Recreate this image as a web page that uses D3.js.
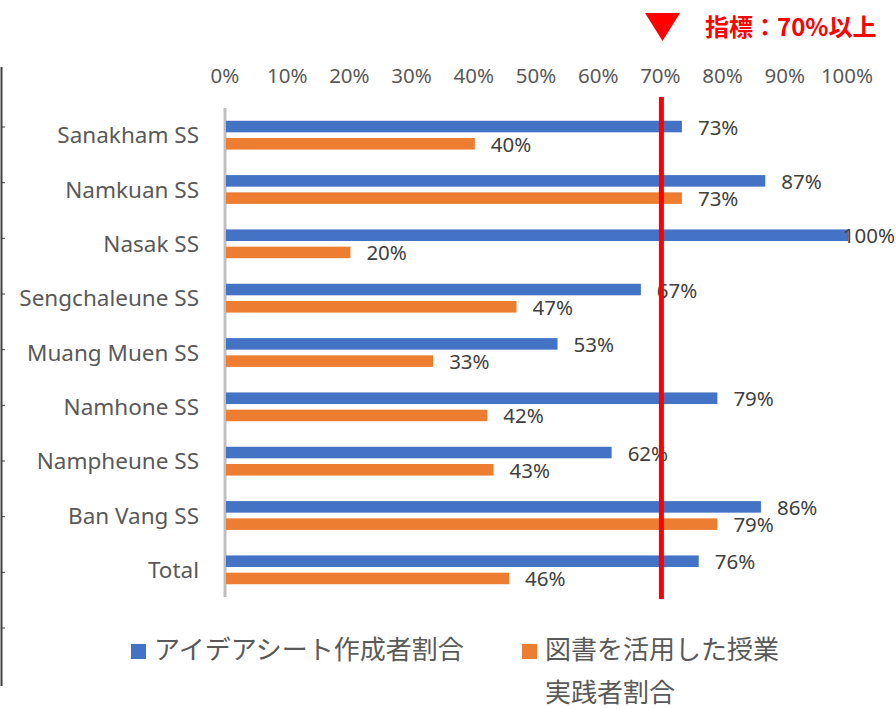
<!DOCTYPE html>
<html>
<head>
<meta charset="utf-8">
<script src="https://cdn.jsdelivr.net/npm/d3@7"></script>
<style>
  body { margin: 0; background: #fff; }
  svg { display: block; font-family: "Noto Sans", "Noto Sans CJK JP", sans-serif; }
</style>
</head>
<body>
<svg id="chart" width="896" height="708"></svg>
<script>
/**
 * Data.
 */
const categories = ['Sanakham SS', 'Namkuan SS', 'Nasak SS', 'Sengchaleune SS', 'Muang Muen SS',
    'Namhone SS', 'Nampheune SS', 'Ban Vang SS', 'Total'];
const seriesNames = ['アイデアシート作成者割合', '図書を活用した授業実践者割合'];
const ideaSheet = [0.733, 0.867, 1.00, 0.667, 0.533, 0.79, 0.62, 0.86, 0.76];
const bookUse = [0.40, 0.733, 0.20, 0.467, 0.333, 0.42, 0.43, 0.79, 0.455];
const xTicks = [0, 0.1, 0.2, 0.3, 0.4, 0.5, 0.6, 0.7, 0.8, 0.9, 1.0];
const target = 0.7;
const targetLabel = '指標：70%以上';
const legendLines = [['アイデアシート作成者割合'], ['図書を活用した授業', '実践者割合']];

/**
 * Visual configs.
 */
const colors = ['#4472C4', '#ED7D31'];
const W = 896, H = 708;

const svg = d3.select('#chart');

const xScale = d3.scaleLinear().domain([0, 1]).range([226, 848]);
const yScale = d3.scaleBand().domain(categories).range([108, 597]).padding(0);
const subScale = d3.scaleBand().domain([0, 1]).range([0, yScale.bandwidth()])
    .paddingInner(0.33).paddingOuter(0.74);

// stray axis at the left edge (cropped neighbour chart)
const stray = d3.scaleLinear().domain([0, 9]).range([127, 628]);
svg.append('line')
    .attr('x1', 1.5).attr('x2', 1.5).attr('y1', 67).attr('y2', 686)
    .attr('stroke', '#404040').attr('stroke-width', 2);
svg.append('g').selectAll('line')
    .data(d3.range(10))
    .join('line')
        .attr('x1', 1).attr('x2', 5)
        .attr('y1', d => stray(d)).attr('y2', d => stray(d))
        .attr('stroke', '#404040').attr('stroke-width', 1);

// x tick labels (top)
svg.append('g').selectAll('text')
    .data(xTicks)
    .join('text')
        .attr('x', d => xScale(d) - 1)
        .attr('y', 83)
        .attr('text-anchor', 'middle')
        .attr('fill', '#595959')
        .attr('font-size', 20.5)
        .text(d3.format('.0%'));

// category axis line
svg.append('line')
    .attr('x1', 225).attr('x2', 225)
    .attr('y1', yScale.range()[0]).attr('y2', yScale.range()[1])
    .attr('stroke', '#BFBFBF').attr('stroke-width', 3);

// category labels
svg.append('g').selectAll('text')
    .data(categories)
    .join('text')
        .attr('x', 199)
        .attr('y', d => yScale(d) + yScale.bandwidth() / 2 + 8)
        .attr('text-anchor', 'end')
        .attr('fill', '#595959')
        .attr('font-size', 22.5)
        .text(d => d);

// bars
const rows = categories.map((c, i) => ({ cat: c, values: [ideaSheet[i], bookUse[i]] }));
const groups = svg.append('g').selectAll('g')
    .data(rows)
    .join('g')
        .attr('transform', d => `translate(0,${yScale(d.cat)})`);

groups.selectAll('rect')
    .data(d => d.values.map((v, s) => ({ v, s })))
    .join('rect')
        .attr('x', xScale(0))
        .attr('y', d => subScale(d.s))
        .attr('width', d => xScale(d.v) - xScale(0))
        .attr('height', subScale.bandwidth())
        .attr('fill', d => colors[d.s]);

groups.selectAll('text')
    .data(d => d.values.map((v, s) => ({ v, s })))
    .join('text')
        .attr('y', d => subScale(d.s) + subScale.bandwidth() / 2 + 8)
        .attr('fill', '#404040')
        .attr('font-size', 20.5)
        .text(d => d3.format('.0%')(d.v))
        .attr('x', function(d) {
            const w = this.getComputedTextLength();
            return Math.min(xScale(d.v) + 16, W - w - 1);
        });

// target line
svg.append('line')
    .attr('x1', xScale(target)).attr('x2', xScale(target))
    .attr('y1', 97).attr('y2', 599)
    .attr('stroke', '#FF0000').attr('stroke-width', 5);

// target marker and label
svg.append('path')
    .attr('d', 'M645,13 L680,13 L662.5,41 Z')
    .attr('fill', '#FF0000');
svg.append('text')
    .attr('x', 705)
    .attr('y', 36)
    .attr('fill', '#FF0000')
    .attr('font-size', 24)
    .attr('font-weight', 'bold')
    .attr('font-family', '"Noto Sans CJK JP", sans-serif')
    .text(targetLabel);

// legend
const legendX = [131, 522];
const legend = svg.append('g').selectAll('g')
    .data(legendLines)
    .join('g')
        .attr('transform', (d, i) => `translate(${legendX[i]},0)`);
legend.append('rect')
    .attr('x', 0).attr('y', 644)
    .attr('width', 15).attr('height', 15)
    .attr('fill', (d, i) => colors[i]);
legend.selectAll('text')
    .data(d => d)
    .join('text')
        .attr('x', (d, j, nodes) => 23)
        .attr('y', (d, j) => 659 + j * 43)
        .attr('fill', '#595959')
        .attr('font-size', 26)
        .attr('font-family', '"Noto Sans CJK JP", sans-serif')
        .text(d => d);
</script>
</body>
</html>
